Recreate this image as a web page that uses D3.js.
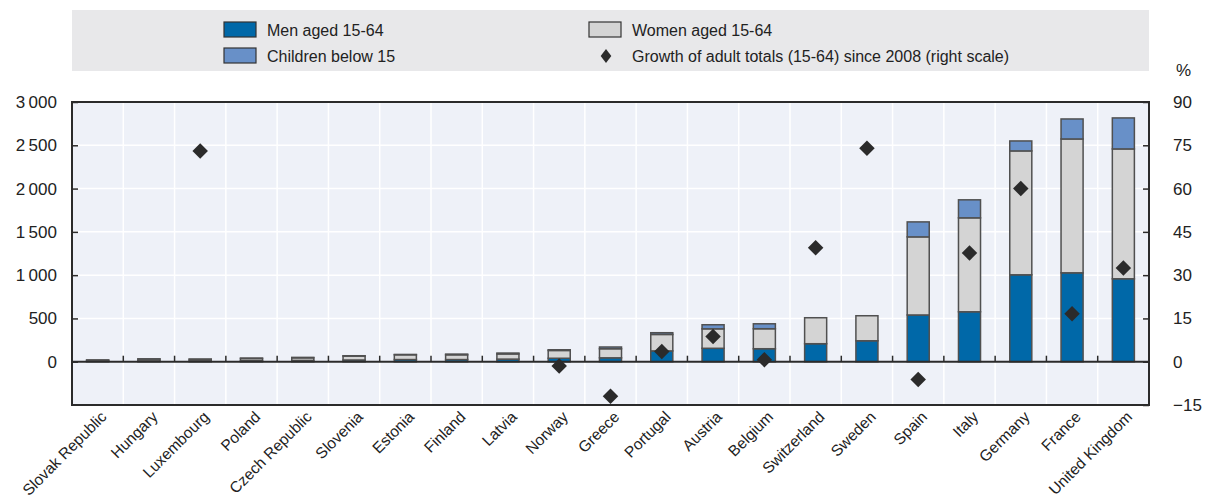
<!DOCTYPE html>
<html><head><meta charset="utf-8">
<script src="https://cdn.jsdelivr.net/npm/d3@7"></script>
<style>
body{margin:0;background:#fff;}
text{font-family:"Liberation Sans Narrow","Arial Narrow","Liberation Sans",Arial,sans-serif;fill:#222;}
</style></head><body>
<svg id="chart" width="1207" height="502"></svg>
<script>
const categories = ["Slovak Republic","Hungary","Luxembourg","Poland","Czech Republic","Slovenia","Estonia","Finland","Latvia","Norway","Greece","Portugal","Austria","Belgium","Switzerland","Sweden","Spain","Italy","Germany","France","United Kingdom"];
const men      = [8, 10, 10, 12, 15, 20, 25, 25, 30, 40, 45, 125, 155, 150, 208, 242, 540, 577, 1004, 1027, 958];
const women    = [10, 20, 18, 25, 30, 45, 55, 55, 60, 90, 105, 190, 225, 231, 300, 289, 902, 1085, 1431, 1546, 1500];
const children = [2, 3, 2, 5, 5, 4, 4, 8, 10, 8, 20, 20, 47, 57, 0, 0, 173, 208, 115, 231, 358];
const growth   = [null, null, 73, null, null, null, null, null, null, -1.5, -12, 3.5, 8.7, 0.7, 39.5, 74, -6.2, 37.7, 60, 16.6, 32.5];
const leftTicks  = [0, 500, 1000, 1500, 2000, 2500, 3000];
const rightTicks = [-15, 0, 15, 30, 45, 60, 75, 90];
const seriesNames = ["Men aged 15-64", "Women aged 15-64", "Children below 15", "Growth of adult totals (15-64) since 2008 (right scale)"];

const colors = {men:"#0068a8", women:"#d4d4d4", children:"#6890c8", diamond:"#2b2b2b", bg:"#eef1f8", legendBg:"#e8e8ea", axis:"#2b2b2b", outline:"#505050"};
const svg = d3.select("#chart");
const L = 72, R = 1149, T = 102, B = 405;

const x = d3.scaleBand().domain(categories).range([L, R]).paddingInner(0.57).paddingOuter(0.285);
const xb = d3.scaleBand().domain(categories).range([L, R]);
const yL = d3.scaleLinear().domain([-500, 3000]).range([B, T]);
const yR = d3.scaleLinear().domain([-15, 90]).range([B, T]);
const diamondPath = d3.symbol(d3.symbolSquare, 120)();

// legend
svg.append("rect").attr("x", L).attr("y", 10).attr("width", R - L).attr("height", 61).attr("fill", colors.legendBg);
const legendItems = [
  {name: seriesNames[0], type:"rect", color: colors.men, x:224, y:30},
  {name: seriesNames[2], type:"rect", color: colors.children, x:224, y:56},
  {name: seriesNames[1], type:"rect", color: colors.women, x:589, y:30},
  {name: seriesNames[3], type:"diamond", color: colors.diamond, x:589, y:56}
];
legendItems.forEach(d => {
  if (d.type === "rect") {
    svg.append("rect").attr("x", d.x).attr("y", d.y - 8).attr("width", 32).attr("height", 15)
      .attr("fill", d.color).attr("stroke", "#333").attr("stroke-width", 1.2);
  } else {
    svg.append("path").attr("d", d3.symbol(d3.symbolSquare, 70)()).attr("transform", `translate(${d.x + 17},${d.y}) scale(0.9,1.2) rotate(45)`).attr("fill", d.color);
  }
  svg.append("text").attr("x", d.x + 43).attr("y", d.y).attr("dy", "0.35em").attr("font-size", 16).text(d.name);
});

// plot background
svg.append("rect").attr("x", L).attr("y", T).attr("width", R - L).attr("height", B - T).attr("fill", colors.bg);

// gridlines
svg.append("g").selectAll("line").data(leftTicks.filter(v => v !== 0 && v !== 3000)).join("line")
  .attr("x1", L).attr("x2", R).attr("y1", d => yL(d)).attr("y2", d => yL(d)).attr("stroke", "#fff").attr("stroke-width", 1.5);
svg.append("g").selectAll("line").data(categories.slice(1)).join("line")
  .attr("x1", d => xb(d)).attr("x2", d => xb(d)).attr("y1", T).attr("y2", B).attr("stroke", "#fff").attr("stroke-width", 1.5);

// stacked bars
const rows = categories.map((c, i) => ({cat: c, men: men[i], women: women[i], children: children[i]}));
const stack = d3.stack().keys(["men", "women", "children"])(rows);
const fills = {men: colors.men, women: colors.women, children: colors.children};
stack.forEach(layer => {
  svg.append("g").selectAll("rect").data(layer.filter(d => d[1] - d[0] > 0)).join("rect")
    .attr("x", d => x(d.data.cat)).attr("width", x.bandwidth())
    .attr("y", d => yL(d[1])).attr("height", d => yL(d[0]) - yL(d[1]))
    .attr("fill", fills[layer.key]).attr("stroke", colors.outline).attr("stroke-width", 1.5);
});

// zero line and category ticks
svg.append("line").attr("x1", L).attr("x2", R).attr("y1", yL(0)).attr("y2", yL(0)).attr("stroke", colors.axis).attr("stroke-width", 2);
svg.append("g").selectAll("line").data(categories.slice(1)).join("line")
  .attr("x1", d => xb(d)).attr("x2", d => xb(d)).attr("y1", yL(0)).attr("y2", yL(0) - 6).attr("stroke", colors.axis).attr("stroke-width", 1.5);

// diamonds
svg.append("g").selectAll("path").data(categories.map((c, i) => ({c, v: growth[i]})).filter(d => d.v !== null)).join("path")
  .attr("d", diamondPath)
  .attr("transform", d => `translate(${xb(d.c) + xb.bandwidth() / 2},${yR(d.v)}) rotate(45)`)
  .attr("fill", colors.diamond);

// frame
svg.append("rect").attr("x", L).attr("y", T).attr("width", R - L).attr("height", B - T).attr("fill", "none").attr("stroke", colors.axis).attr("stroke-width", 2);

// left axis
const axL = svg.append("g").attr("transform", `translate(${L},0)`)
  .call(d3.axisLeft(yL).tickValues(leftTicks).tickSize(-6).tickPadding(15).tickFormat(d => d3.format(",")(d).replace(/,/g, "\u2009")));
axL.select(".domain").remove();
axL.selectAll(".tick line").attr("stroke", colors.axis).attr("stroke-width", 1.5);
axL.selectAll(".tick text").attr("font-size", 17).attr("fill", "#222").style("font-family", '"Liberation Sans Narrow","Liberation Sans",Arial,sans-serif');

// right axis
const axR = svg.append("g").attr("transform", `translate(${R},0)`)
  .call(d3.axisRight(yR).tickValues(rightTicks).tickSize(-6).tickPadding(24));
axR.select(".domain").remove();
axR.selectAll(".tick line").attr("stroke", colors.axis).attr("stroke-width", 1.5);
axR.selectAll(".tick text").attr("font-size", 17).attr("fill", "#222").style("font-family", '"Liberation Sans Narrow","Liberation Sans",Arial,sans-serif');
svg.append("text").attr("x", 1176).attr("y", 76).attr("font-size", 17).text("%");

// x labels
svg.append("g").selectAll("text").data(categories).join("text")
  .attr("transform", d => `translate(${xb(d) + xb.bandwidth() / 2 + 6},${B + 9}) rotate(-45)`)
  .attr("text-anchor", "end").attr("dy", "0.35em").attr("font-size", 15.5).text(d => d);
</script>
</body></html>
